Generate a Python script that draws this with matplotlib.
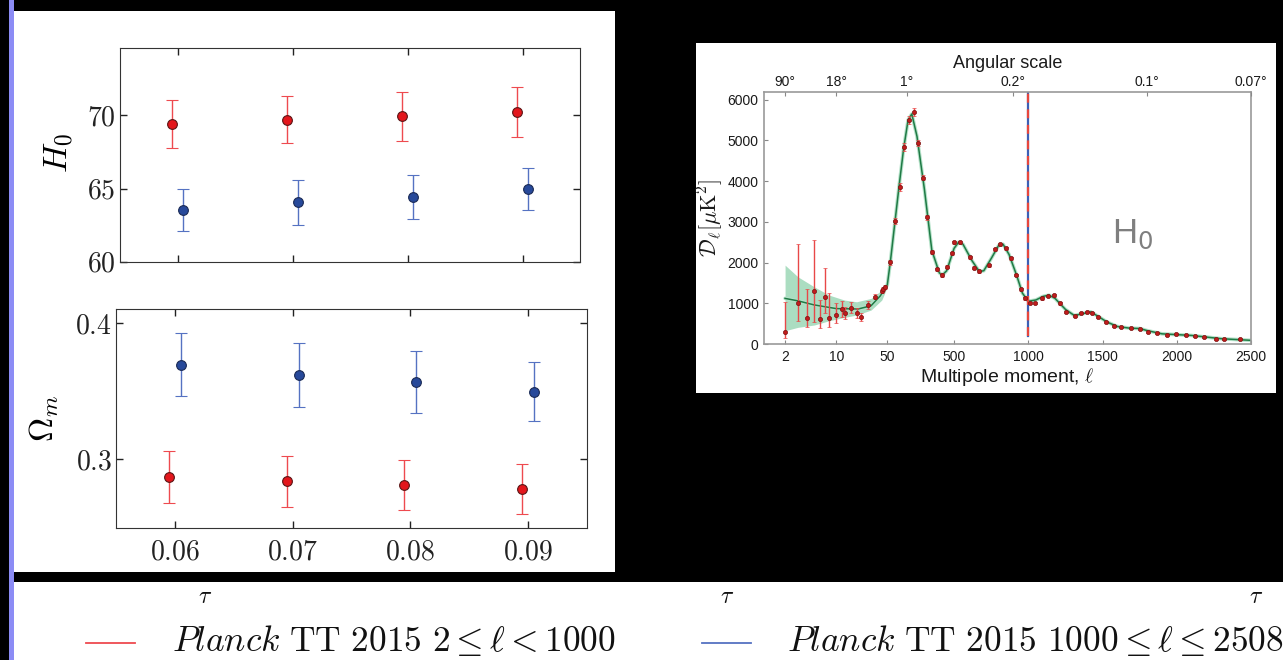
import numpy as np
import matplotlib
matplotlib.use("Agg")
import matplotlib.pyplot as plt
from matplotlib.patches import Rectangle
from matplotlib.lines import Line2D

plt.rcParams['mathtext.fontset'] = 'cm'
plt.rcParams['font.family'] = ['Liberation Sans', 'DejaVu Sans']

# ---- left panel: parameter shifts vs tau ----
tau = np.array([0.06, 0.07, 0.08, 0.09])
tau_shift = 0.0005
tau_labels = ['0.06', '0.07', '0.08', '0.09']

h0_low = [69.43, 69.70, 69.93, 70.23]
h0_low_err = [1.65, 1.60, 1.65, 1.70]
h0_high = [63.56, 64.06, 64.43, 64.98]
h0_high_err = [1.44, 1.53, 1.50, 1.45]

om_low = [0.2872, 0.2840, 0.2813, 0.2782]
om_low_err = [0.0190, 0.0187, 0.0185, 0.0185]
om_high = [0.3696, 0.3620, 0.3568, 0.3497]
om_high_err = [0.0233, 0.0238, 0.0228, 0.0218]

# ---- right panel: Planck TT spectrum ----
ell = [2, 3, 4, 5, 6, 7, 8, 10, 12, 13, 16, 19, 22, 27, 34, 42, 44, 46,
       71, 105, 134, 163, 196, 228, 260, 291, 320, 351, 385, 417, 450, 484,
       502, 541, 605, 631, 671, 732, 773, 808, 847, 880,
       916, 950, 977, 1013, 1044, 1089, 1132, 1171, 1212, 1255,
       1314, 1357, 1395, 1428, 1472, 1523, 1574, 1624, 1689, 1752,
       1803, 1867, 1931, 1995, 2059, 2123, 2186, 2262, 2318, 2426]
dl = [287, 1013, 645, 1292, 613, 1160, 630, 711, 851, 768, 890, 768, 654, 960, 1160, 1300, 1350, 1400,
      2003, 3016, 3866, 4838, 5493, 5697, 4937, 4087, 3114, 2264, 1832, 1692, 1896, 2224,
      2494, 2494, 2125, 1871, 1790, 1937, 2322, 2452, 2346, 2101,
      1692, 1341, 1120, 1013, 1005, 1120, 1177, 1194, 998, 792,
      694, 753, 792, 768, 670, 547, 441, 409, 392, 376,
      302, 262, 221, 237, 221, 204, 164, 123, 123, 115]
dl_err_lo = [147, 442, 236, 745, 228, 408, 206, 200, 181, 150, 140, 120, 100, 90, 60, 50, 50, 50,
             60, 80, 100, 100, 100, 100, 80, 70, 60, 50, 40, 40, 40, 40,
             40, 40, 35, 35, 35, 35, 35, 35, 35, 30,
             30, 30, 30, 30, 30, 30, 30, 30, 30, 30,
             25, 25, 25, 25, 25, 25, 25, 25, 25, 25,
             25, 25, 25, 25, 25, 25, 25, 25, 25, 25]
dl_err_hi = [750, 1439, 704, 1258, 466, 696, 613, 300, 211, 150, 140, 120, 100, 90, 60, 50, 50, 50,
             60, 80, 100, 100, 100, 100, 80, 70, 60, 50, 40, 40, 40, 40,
             40, 40, 35, 35, 35, 35, 35, 35, 35, 30,
             30, 30, 30, 30, 30, 30, 30, 30, 30, 30,
             25, 25, 25, 25, 25, 25, 25, 25, 25, 25,
             25, 25, 25, 25, 25, 25, 25, 25, 25, 25]

th_ell = [2, 3, 5, 10, 20, 30, 40, 50, 70, 100, 130, 160, 190, 215, 250, 300, 350, 400, 420, 450,
          500, 530, 560, 620, 670, 700, 750, 800, 830, 870, 920, 960, 1000, 1050, 1100, 1140, 1180,
          1250, 1310, 1360, 1420, 1470, 1530, 1600, 1680, 1750, 1800, 1900, 2000, 2100, 2200, 2300,
          2400, 2500]
th_dl = [1120, 1060, 960, 870, 860, 940, 1180, 1450, 2000, 2950, 3900, 4800, 5500, 5650, 5100, 3800,
         2300, 1750, 1690, 1800, 2350, 2500, 2450, 2050, 1780, 1800, 2100, 2420, 2450, 2200, 1700,
         1250, 1050, 1080, 1170, 1200, 1120, 850, 700, 740, 790, 680, 540, 430, 390, 380, 330, 250,
         230, 210, 170, 130, 110, 90]

band_ell = [2, 3, 5, 8, 13, 19, 30, 42, 49]
band_hi = [1937, 1650, 1405, 1201, 1079, 1037, 1120, 1324, 1530]
band_lo = [326, 409, 466, 571, 654, 711, 834, 1079, 1366]

ell_ticks = [2, 10, 50, 500, 1000, 1500, 2000, 2500]
dl_ticks = [0, 1000, 2000, 3000, 4000, 5000, 6000]
angle_deg = [90, 18, 1, 0.2, 0.1, 0.07]
angle_labels = ['90°', '18°', '1°', '0.2°', '0.1°', '0.07°']
ell_split = 1000

legend_labels = [r'$\mathit{Planck}\ \mathrm{TT\ 2015}\ 2 \leq \ell < 1000$',
                 r'$\mathit{Planck}\ \mathrm{TT\ 2015}\ 1000 \leq \ell \leq 2508$']

red, red_err = '#e3161c', '#ee4a4f'
blue, blue_err = '#27499a', '#5572c2'

W, H = 1283, 660


def box(l, t, r, b):
    return [l / W, 1 - b / H, (r - l) / W, (b - t) / H]


def add_rect(l, t, r, b, color):
    x, y, w, h = box(l, t, r, b)
    fig.add_artist(Rectangle((x, y), w, h, transform=fig.transFigure,
                             facecolor=color, edgecolor='none', zorder=-5))


# hybrid log / linear multipole axis as in the Planck plots
SPLIT = 50.0
K = 0.00203


def fwd(l):
    l = np.asarray(l, dtype=float)
    return np.where(l < SPLIT, np.log10(np.clip(l, 1e-6, None)),
                    np.log10(SPLIT) + (l - SPLIT) * K)


def inv(y):
    y = np.asarray(y, dtype=float)
    y0 = np.log10(SPLIT)
    return np.where(y < y0, 10 ** np.minimum(y, y0), SPLIT + (y - y0) / K)


fig = plt.figure(figsize=(12.83, 6.6), dpi=100, facecolor='black')

add_rect(9, 0, 14, 660, '#8c8cf5')
add_rect(14, 11, 615, 572, 'white')
add_rect(696, 43, 1276, 393, 'white')
add_rect(14, 582, 1283, 660, 'white')


def style_left(ax):
    ax.tick_params(direction='in', top=True, right=True, length=5, width=1,
                   labelsize=20, colors='#222222')
    ax.tick_params(axis='x', pad=8)
    ax.tick_params(axis='y', pad=3)
    for s in ax.spines.values():
        s.set_color('#333333')
    ax.set_xlim(0.055, 0.095)
    ax.set_xticks(tau)


ekw = dict(fmt='o', ms=7, capsize=4, elinewidth=1, capthick=1, mew=0.8)

ax1 = fig.add_axes(box(120, 48, 580, 262))
ax1.errorbar(tau - tau_shift, h0_low, yerr=h0_low_err, color=red_err, mfc=red, mec='#5a1515', **ekw)
ax1.errorbar(tau + tau_shift, h0_high, yerr=h0_high_err, color=blue_err, mfc=blue, mec='#1a2a55', **ekw)
style_left(ax1)
ax1.set_xticklabels([])
ax1.set_ylim(60, 74.6)
ax1.set_yticks([60, 65, 70])
ax1.set_yticklabels([r'$60$', r'$65$', r'$70$'])
ax1.set_ylabel(r'$H_0$', fontsize=24)
ax1.yaxis.set_label_coords(-0.098, 0.51)

ax2 = fig.add_axes(box(116, 309, 587, 528))
ax2.errorbar(tau - tau_shift, om_low, yerr=om_low_err, color=red_err, mfc=red, mec='#5a1515', **ekw)
ax2.errorbar(tau + tau_shift, om_high, yerr=om_high_err, color=blue_err, mfc=blue, mec='#1a2a55', **ekw)
style_left(ax2)
ax2.set_xticklabels(['$' + t + '$' for t in tau_labels])
ax2.set_ylim(0.2495, 0.4105)
ax2.set_yticks([0.3, 0.4])
ax2.set_yticklabels([r'$0.3$', r'$0.4$'])
ax2.set_ylabel(r'$\Omega_m$', fontsize=24)
ax2.yaxis.set_label_coords(-0.117, 0.50)

# ---- right panel ----
ax3 = fig.add_axes(box(764, 92, 1251, 344))
ax3.set_xscale('function', functions=(fwd, inv))
ax3.fill_between(band_ell, band_lo, band_hi, color='#8fd2ad', alpha=0.75, lw=0)
ax3.plot(th_ell, th_dl, color='#b5e2c9', lw=2.6, solid_capstyle='round')
ax3.plot(th_ell, th_dl, color='#1f7a45', lw=1.1)
ax3.errorbar(ell, dl, yerr=[dl_err_lo, dl_err_hi], fmt='o', ms=3.0, color='#e84848',
             mfc='#c01c1c', mec='#7a1010', mew=0.5, elinewidth=1, capsize=1.5, capthick=0.8)
ax3.axvline(ell_split, ymin=0.033, color='#3d5fb5', lw=1.6)
ax3.axvline(ell_split, ymin=0.033, color='#e8463c', lw=1.6, ls=(0, (4, 3)))
ax3.text(1700, 2700, 'H$_0$', fontsize=25, color='#7f7f7f', ha='center', va='center',
         math_fontfamily='dejavusans')
ax3.set_xlim(1.03, 2500)
ax3.set_ylim(0, 6190)
ax3.set_xticks(ell_ticks)
ax3.set_xticklabels([str(t) for t in ell_ticks])
ax3.minorticks_off()
ax3.set_yticks(dl_ticks)
ax3.tick_params(direction='in', length=3, width=0.8, labelsize=10, colors='#888888',
                labelcolor='#1a1a1a', pad=4)
for s in ax3.spines.values():
    s.set_color('#999999')
    s.set_linewidth(1.2)
ax3.set_xlabel(r'Multipole moment, $\ell$', fontsize=14, color='#1a1a1a', labelpad=2)
ax3.set_ylabel(r'$\mathcal{D}_\ell[\mu{\rm K}^2]$', fontsize=16, color='#1a1a1a')
ax3.yaxis.set_label_coords(-0.08, 0.5)

ax4 = ax3.twiny()
ax4.set_xscale('function', functions=(fwd, inv))
ax4.set_xlim(1.03, 2500)
ax4.set_xticks([min(180.0 / a, 2500) for a in angle_deg])
ax4.set_xticklabels(angle_labels)
ax4.minorticks_off()
ax4.tick_params(direction='in', length=3, width=0.8, labelsize=10, colors='#888888',
                labelcolor='#1a1a1a', pad=2)
ax4.set_xlabel('Angular scale', fontsize=13, color='#1a1a1a', labelpad=5)
for s in ax4.spines.values():
    s.set_visible(False)

# ---- bottom strip: tau labels + legend ----
for xp in [205, 727, 1256]:
    fig.text(xp / W, 1 - 597 / H, r'$\tau$', fontsize=17, ha='center', va='center', color='#111111')

for (x0, x1, xt), col, lab in zip([(86, 135, 172), (702, 751, 787)],
                                  [red_err, blue_err], legend_labels):
    fig.add_artist(Line2D([x0 / W, x1 / W], [1 - 643 / H] * 2, transform=fig.transFigure,
                          color=col, lw=1.3))
    fig.text(xt / W, 1 - 651 / H, lab, fontsize=25.5, va='baseline', color='#111111')

fig.savefig('out.png', dpi=100, facecolor='black')
